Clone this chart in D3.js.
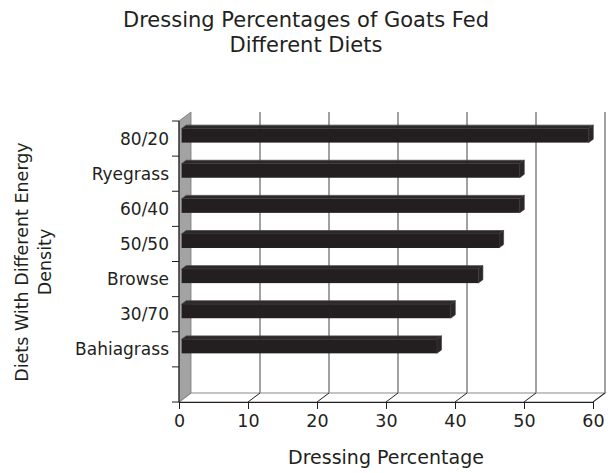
<!DOCTYPE html>
<html>
<head>
<meta charset="utf-8">
<script src="https://cdn.jsdelivr.net/npm/d3@7"></script>
<style>
  html, body { margin: 0; padding: 0; background: #fff; }
  svg { display: block; }
  text { font-family: "DejaVu Sans", Verdana, sans-serif; fill: #231f20; }
</style>
</head>
<body>
<svg id="chart" width="616" height="473"></svg>
<script>
// ---- data ----
const categories = ["80/20", "Ryegrass", "60/40", "50/50", "Browse", "30/70", "Bahiagrass", ""];
const values = [59, 49, 49, 46, 43, 39, 37, null];
const xTicks = [0, 10, 20, 30, 40, 50, 60];
const titleLines = ["Dressing Percentages of Goats Fed", "Different Diets"];
const yTitleLines = ["Diets With Different Energy", "Density"];
const xTitle = "Dressing Percentage";

// ---- layout ----
const svg = d3.select("#chart");
const front = { left: 179, right: 593, top: 121, bottom: 402 };
const depth = { dx: 12, dy: -9 };

const x = d3.scaleLinear().domain([0, 60]).range([front.left, front.right]);
const y = d3.scaleBand().domain(categories.map((c, i) => i)).range([front.top, front.bottom]).padding(0);

const gridColor = "#8a8a8a";
const dark = "#231f20";
const pts = arr => arr.map(p => p.join(",")).join(" ");

// back wall
svg.append("rect")
  .attr("x", front.left + depth.dx).attr("y", front.top + depth.dy)
  .attr("width", front.right - front.left).attr("height", front.bottom - front.top)
  .attr("fill", "#fff");

// left wall
svg.append("polygon")
  .attr("points", pts([
    [front.left, front.top], [front.left + depth.dx, front.top + depth.dy],
    [front.left + depth.dx, front.bottom + depth.dy], [front.left, front.bottom]
  ]))
  .attr("fill", "#a3a3a3").attr("stroke", "#777").attr("stroke-width", 0.8);

// floor
svg.append("polygon")
  .attr("points", pts([
    [front.left, front.bottom], [front.left + depth.dx, front.bottom + depth.dy],
    [front.right + depth.dx, front.bottom + depth.dy], [front.right, front.bottom]
  ]))
  .attr("fill", "#fff").attr("stroke", gridColor).attr("stroke-width", 1.2);

// gridlines (back wall) + floor diagonals
xTicks.forEach(t => {
  if (t === 0) return;
  svg.append("line")
    .attr("x1", x(t) + depth.dx).attr("x2", x(t) + depth.dx)
    .attr("y1", front.top + depth.dy).attr("y2", front.bottom + depth.dy)
    .attr("stroke", gridColor).attr("stroke-width", 1.6);
  svg.append("line")
    .attr("x1", x(t)).attr("y1", front.bottom)
    .attr("x2", x(t) + depth.dx).attr("y2", front.bottom + depth.dy)
    .attr("stroke", dark).attr("stroke-width", 1);
});

// bars (3D)
const bh = y.bandwidth() * 0.4;
const f1 = 0.22, f2 = 0.6; // depth fractions of bar front/back
categories.forEach((c, i) => {
  const v = values[i];
  if (v == null) return;
  const yc = y(i) + y.bandwidth() / 2 - 1;
  const y0 = yc - bh / 2, y1 = yc + bh / 2;
  const ox1 = depth.dx * f1, oy1 = depth.dy * f1;
  const ox2 = depth.dx * f2, oy2 = depth.dy * f2;
  const xl = x(0), xr = x(v);
  const g = svg.append("g");
  g.append("polygon")
    .attr("points", pts([[xl + ox1, y0 + oy1], [xl + ox2, y0 + oy2], [xr + ox2, y0 + oy2], [xr + ox1, y0 + oy1]]))
    .attr("fill", "#2c2829").attr("stroke", "#4a4647").attr("stroke-width", 0.8);
  g.append("polygon")
    .attr("points", pts([[xr + ox1, y0 + oy1], [xr + ox2, y0 + oy2], [xr + ox2, y1 + oy2], [xr + ox1, y1 + oy1]]))
    .attr("fill", "#2a2627").attr("stroke", "#3a3637").attr("stroke-width", 0.6);
  g.append("rect")
    .attr("x", xl + ox1).attr("y", y0 + oy1)
    .attr("width", xr - xl).attr("height", bh)
    .attr("fill", dark);
});

// y axis line + ticks
svg.append("line")
  .attr("x1", front.left).attr("x2", front.left)
  .attr("y1", front.top).attr("y2", front.bottom)
  .attr("stroke", dark).attr("stroke-width", 1.2);
const yTickPos = categories.map((c, i) => y(i)).concat([front.bottom]);
yTickPos.forEach(p => {
  svg.append("line")
    .attr("x1", front.left - 7).attr("x2", front.left)
    .attr("y1", p).attr("y2", p)
    .attr("stroke", dark).attr("stroke-width", 1);
});
// category labels
categories.forEach((c, i) => {
  svg.append("text")
    .attr("x", 169).attr("y", y(i) + y.bandwidth() / 2)
    .attr("text-anchor", "end").attr("dominant-baseline", "central")
    .attr("font-size", 17).text(c);
});

// x axis
const xAxis = d3.axisBottom(x).tickValues(xTicks).tickSize(7).tickPadding(6).tickSizeOuter(0);
const gx = svg.append("g").attr("transform", `translate(0,${front.bottom})`).call(xAxis);
gx.select(".domain").attr("stroke", dark).attr("stroke-width", 1.2);
gx.selectAll(".tick line").attr("stroke", dark);
gx.selectAll(".tick text")
  .attr("font-size", 17.5).attr("font-family", "DejaVu Sans, Verdana, sans-serif")
  .attr("fill", dark);

// titles
titleLines.forEach((t, i) => {
  svg.append("text")
    .attr("x", 306).attr("y", 26.5 + i * 25.5)
    .attr("text-anchor", "middle").attr("font-size", 21).text(t);
});
svg.append("text")
  .attr("x", 386).attr("y", 464)
  .attr("text-anchor", "middle").attr("font-size", 19).text(xTitle);
yTitleLines.forEach((t, i) => {
  svg.append("text")
    .attr("transform", `translate(${28 + i * 23},262) rotate(-90)`)
    .attr("text-anchor", "middle").attr("font-size", 17.5).text(t);
});
</script>
</body>
</html>
